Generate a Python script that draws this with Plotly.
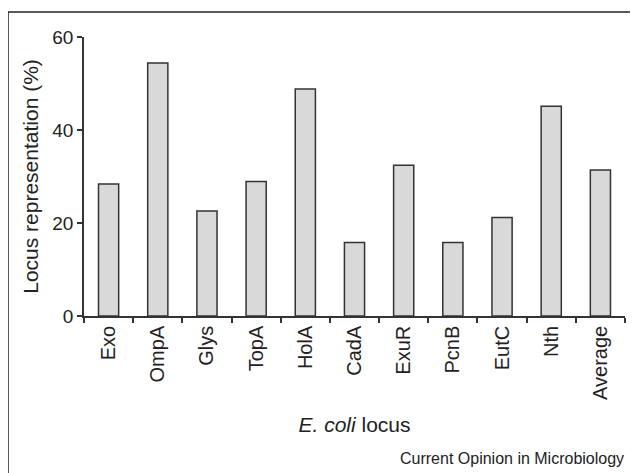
import plotly.graph_objects as go

categories = ["Exo", "OmpA", "Glys", "TopA", "HolA", "CadA", "ExuR", "PcnB", "EutC", "Nth", "Average"]
values = [28.4, 54.4, 22.6, 28.9, 48.8, 15.8, 32.4, 15.8, 21.2, 45.1, 31.4]
y_ticks = [0, 20, 40, 60]

# The page body adds an 8px offset; work in screen pixels and convert.
OFF = 8
W, H = 638 - OFF, 473 - OFF
PL, PR, PT, PB = 84, 625, 37, 316  # plot area in screen pixels
L, T = PL - OFF, PT - OFF
R = W - (PR - OFF)
B = H - (PB - OFF)
pw, ph = PR - PL, PB - PT

def px_x(x):
    return (x - PL) / pw

def px_y(y):
    return (PB - y) / ph

FONT = "Liberation Sans, Arial, Helvetica, sans-serif"
INK = "#222222"

fig = go.Figure(go.Bar(
    x=categories, y=values,
    marker=dict(color="#d9d9d9", line=dict(color="#333333", width=1.5)),
))

fig.update_layout(
    width=W, height=H,
    margin=dict(l=L, r=R, t=T, b=B, autoexpand=False),
    paper_bgcolor="white", plot_bgcolor="white",
    bargap=0.59, showlegend=False,
    font=dict(family=FONT, color=INK),
)
fig.update_xaxes(
    range=[-0.5, len(categories) - 0.5],
    showline=True, linecolor="#333333", linewidth=1.5,
    ticks="outside", tickson="boundaries", ticklen=5, tickwidth=1.5, tickcolor="#333333",
    tickangle=-90, tickfont=dict(size=20, family=FONT, color=INK),
    showgrid=False, zeroline=False, automargin=False,
    title=dict(text="<i>E. coli</i> locus", font=dict(size=21, family=FONT, color=INK), standoff=18),
)
fig.update_yaxes(
    range=[0, 60], tickvals=y_ticks,
    showline=True, linecolor="#333333", linewidth=1.5,
    ticks="outside", ticklen=5, tickwidth=1.5, tickcolor="#333333",
    tickfont=dict(size=19, family=FONT, color=INK),
    showgrid=False, zeroline=False, automargin=False,
    title=dict(text="Locus representation (%)", font=dict(size=21, family=FONT, color=INK), standoff=8),
)

# Frame lines (top and left)
fig.add_shape(type="line", xref="paper", yref="paper",
              x0=px_x(8), y0=px_y(12), x1=px_x(640), y1=px_y(12),
              line=dict(color="#222222", width=1.5))
fig.add_shape(type="line", xref="paper", yref="paper",
              x0=px_x(8), y0=px_y(12), x1=px_x(8), y1=px_y(475),
              line=dict(color="#222222", width=1.5))

fig.add_annotation(text="Current Opinion in Microbiology", xref="paper", yref="paper",
                   x=px_x(626), y=px_y(459), xanchor="right", yanchor="middle",
                   showarrow=False, font=dict(size=16, family=FONT, color=INK))

fig.write_html("out.html")
